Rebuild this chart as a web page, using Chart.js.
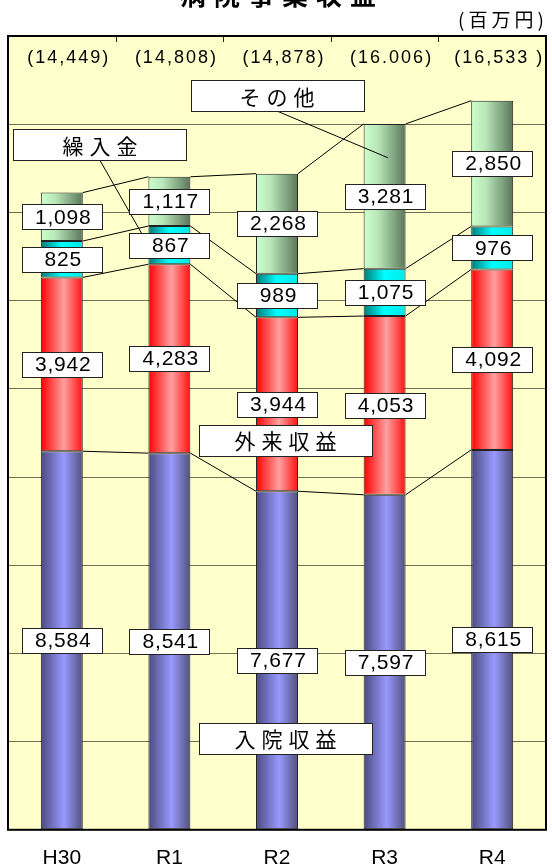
<!DOCTYPE html>
<html>
<head>
<meta charset="utf-8">
<script src="https://cdn.jsdelivr.net/npm/chart.js@4"></script>
<style>
  html, body { margin: 0; padding: 0; background: #fff; }
  #wrap { width: 552px; height: 868px; position: relative; }
</style>
</head>
<body>
<div id="wrap"><canvas id="chart"></canvas></div>
<script>
const years = ["H30", "R1", "R2", "R3", "R4"];
const inpatient = [8584, 8541, 7677, 7597, 8615];
const outpatient = [3942, 4283, 3944, 4053, 4092];
const transfers = [825, 867, 989, 1075, 976];
const other = [1098, 1117, 2268, 3281, 2850];
const totalLabels = ["(14,449)", "(14,808)", "(14,878)", "(16.006)", "(16,533 )"];
const yMax = 18000;
const yStep = 2000;

// series name boxes, placed in data space: [category position, value]
const callouts = [
  { text: "その他", at: [2.0, 16650], to: [3.03, 15240] },
  { text: "繰入金", at: [0.355, 15530], to: [0.75, 13490] },
  { text: "外来収益", at: [2.08, 8830] },
  { text: "入院収益", at: [2.08, 2074] },
];

const BAR_PCT = 0.39;
const NUM_FONT = "'Liberation Sans', Arial, sans-serif";
const JP_FONT = "'Noto Sans CJK JP', sans-serif";

function barGradient(stops) {
  return (c) => {
    const chart = c.chart;
    const x = chart.scales.x;
    if (!x || c.dataIndex === undefined) return stops[1][1];
    const cx = x.getPixelForValue(c.dataIndex);
    const w = (x.width / years.length) * BAR_PCT;
    if (!isFinite(cx) || !isFinite(w) || w <= 0) return stops[1][1];
    const g = chart.ctx.createLinearGradient(cx - w / 2, 0, cx + w / 2, 0);
    stops.forEach(([o, col]) => g.addColorStop(o, col));
    return g;
  };
}

function drawSpaced(ctx, text, cx, cy, spacing) {
  const chars = [...text];
  const widths = chars.map((ch) => ctx.measureText(ch).width);
  const total = widths.reduce((a, b) => a + b, 0) + spacing * (chars.length - 1);
  let x = cx - total / 2;
  ctx.textAlign = "left";
  chars.forEach((ch, i) => {
    ctx.fillText(ch, x, cy);
    x += widths[i] + spacing;
  });
}

function box(ctx, cx, cy, w, h) {
  const x = Math.round(cx - w / 2) + 0.5;
  const y = Math.round(cy - h / 2) + 0.5;
  ctx.fillStyle = "#fff";
  ctx.fillRect(x, y, w, h);
  ctx.strokeStyle = "#222";
  ctx.lineWidth = 1;
  ctx.strokeRect(x, y, w, h);
}

const decorPlugin = {
  id: "decor",
  beforeDraw(chart) {
    const { ctx, chartArea: a } = chart;
    ctx.save();
    ctx.fillStyle = "#fff";
    ctx.fillRect(0, 0, chart.width, chart.height);
    ctx.fillStyle = "#ffffcc";
    ctx.fillRect(a.left, a.top, a.right - a.left, a.bottom - a.top);
    ctx.restore();
  },
  afterDatasetsDraw(chart) {
    const { ctx, chartArea: a, scales } = chart;
    const xs = scales.x, ys = scales.y;
    const metas = chart.getSortedVisibleDatasetMetas();
    ctx.save();

    // series lines between neighbouring bars
    ctx.strokeStyle = "#000";
    ctx.lineWidth = 1;
    ctx.beginPath();
    metas.forEach((meta) => {
      for (let i = 0; i < meta.data.length - 1; i++) {
        const p = meta.data[i].getProps(["x", "y", "width"], true);
        const q = meta.data[i + 1].getProps(["x", "y", "width"], true);
        ctx.moveTo(p.x + p.width / 2, p.y);
        ctx.lineTo(q.x - q.width / 2, q.y);
      }
    });
    ctx.stroke();

    // leader lines of the name boxes
    callouts.forEach((c) => {
      if (!c.to) return;
      const bx = xs.getPixelForValue(c.at[0]);
      const by = ys.getPixelForValue(c.at[1]) + 15.5;
      ctx.beginPath();
      ctx.moveTo(bx, by);
      ctx.lineTo(xs.getPixelForValue(c.to[0]), ys.getPixelForValue(c.to[1]));
      ctx.stroke();
    });

    // value boxes
    ctx.textBaseline = "middle";
    ctx.font = "21px " + NUM_FONT;
    metas.forEach((meta) => {
      const data = chart.data.datasets[meta.index].data;
      meta.data.forEach((el, i) => {
        const p = el.getProps(["x", "y", "base"], true);
        const cy = (p.y + p.base) / 2;
        box(ctx, p.x, cy, 80, 25);
        ctx.fillStyle = "#000";
        drawSpaced(ctx, data[i].toLocaleString("en-US"), p.x + 1, cy + 1, 0.8);
      });
    });

    // series name boxes
    ctx.font = "21px " + JP_FONT;
    callouts.forEach((c) => {
      const cx = xs.getPixelForValue(c.at[0]);
      const cy = ys.getPixelForValue(c.at[1]);
      box(ctx, cx, cy, 173, 31);
      ctx.fillStyle = "#000";
      drawSpaced(ctx, c.text, cx, cy + 1, 6);
    });

    // totals at the top of each column
    ctx.font = "18px " + NUM_FONT;
    totalLabels.forEach((t, i) => {
      drawSpaced(ctx, t, xs.getPixelForValue(i) + 6, a.top + 22, 2);
    });

    // tick marks between categories along the top edge
    ctx.lineWidth = 1;
    ctx.beginPath();
    for (let i = 0; i < years.length - 1; i++) {
      const bx = Math.round((xs.getPixelForValue(i) + xs.getPixelForValue(i + 1)) / 2) + 0.5;
      ctx.moveTo(bx, a.top);
      ctx.lineTo(bx, a.top + 6);
    }
    ctx.stroke();

    // frame
    ctx.lineWidth = 2;
    ctx.strokeStyle = "#000";
    ctx.strokeRect(a.left, a.top, a.right - a.left, a.bottom - a.top);

    // title (cut by the top edge) and unit
    ctx.textBaseline = "middle";
    ctx.font = "bold 26px " + JP_FONT;
    drawSpaced(ctx, "病院事業収益", 278, -5, 8);
    ctx.font = "19px " + JP_FONT;
    drawSpaced(ctx, "(百万円)", 501, 20, 4);
    ctx.restore();
  },
};

const common = {
  barPercentage: BAR_PCT,
  categoryPercentage: 1,
  borderWidth: 1,
  borderColor: "#222",
  borderSkipped: false,
};

new Chart(document.getElementById("chart"), {
  type: "bar",
  data: {
    labels: years,
    datasets: [
      {
        ...common,
        label: "入院収益",
        data: inpatient,
        backgroundColor: barGradient([[0, "#4a4a80"], [0.55, "#9999ff"], [1, "#50507a"]]),
      },
      {
        ...common,
        label: "外来収益",
        data: outpatient,
        backgroundColor: barGradient([[0, "#ff0000"], [0.55, "#ffa0a0"], [1, "#ff1010"]]),
      },
      {
        ...common,
        label: "繰入金",
        data: transfers,
        backgroundColor: barGradient([[0, "#007878"], [0.5, "#00ffff"], [1, "#00e8e8"]]),
      },
      {
        ...common,
        label: "その他",
        data: other,
        backgroundColor: barGradient([[0, "#ccffcc"], [0.35, "#b8e6b8"], [1, "#5a755a"]]),
      },
    ],
  },
  options: {
    responsive: true,
    maintainAspectRatio: false,
    animation: false,
    layout: { padding: { left: 8, right: 6, top: 36, bottom: -18 } },
    plugins: { legend: { display: false }, tooltip: { enabled: false } },
    scales: {
      x: {
        stacked: true,
        grid: { display: false, drawTicks: false },
        border: { display: false },
        ticks: { color: "#000", padding: 15.5, font: { family: NUM_FONT, size: 21 } },
      },
      y: {
        stacked: true,
        min: 0,
        max: yMax,
        ticks: { display: false, stepSize: yStep },
        grid: { color: "#707058", lineWidth: 1, drawTicks: false },
        border: { display: false },
      },
    },
  },
  plugins: [decorPlugin],
});
</script>
</body>
</html>
